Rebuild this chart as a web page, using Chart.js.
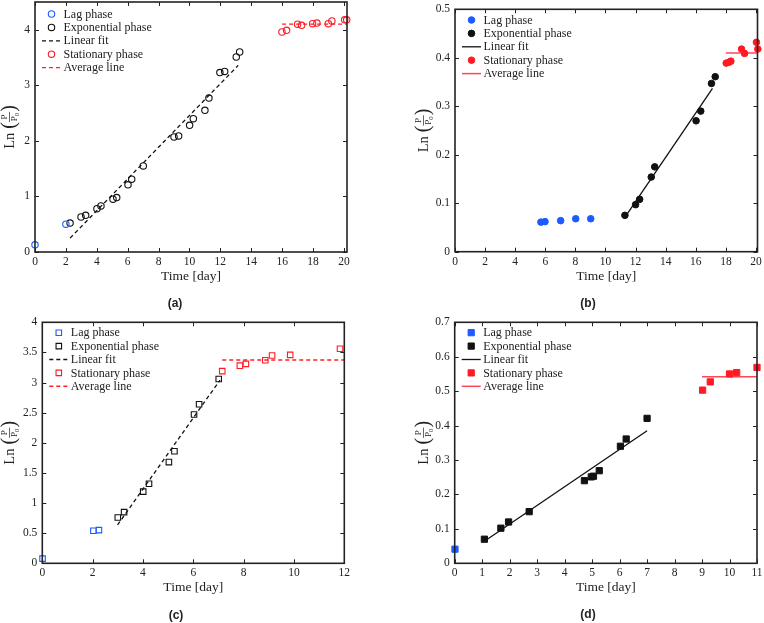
<!DOCTYPE html>
<html>
<head>
<meta charset="utf-8">
<script src="https://cdn.jsdelivr.net/npm/chart.js@4.4.1/dist/chart.umd.min.js"></script>
<style>
  html, body { margin: 0; padding: 0; background: #fff; }
  #wrap { position: relative; width: 764px; height: 623px; overflow: hidden; background: #fff; }
  .panel { position: absolute; }
  .tag { position: absolute; font: bold 12px "Liberation Sans", Arial, sans-serif; color: #222; transform: translate(-50%, -50%); }
</style>
</head>
<body>
<div id="wrap">
  <div class="panel" style="left:0;top:0"><canvas id="ca" width="382" height="300"></canvas></div>
  <div class="panel" style="left:382px;top:0"><canvas id="cb" width="382" height="300"></canvas></div>
  <div class="panel" style="left:0;top:300px"><canvas id="cc" width="382" height="323"></canvas></div>
  <div class="panel" style="left:382px;top:300px"><canvas id="cd" width="382" height="323"></canvas></div>
  <div class="tag" style="left:175px;top:303px">(a)</div>
  <div class="tag" style="left:588px;top:303px">(b)</div>
  <div class="tag" style="left:176px;top:615px">(c)</div>
  <div class="tag" style="left:588px;top:614px">(d)</div>
</div>
<script>
// ---- data: panel (a) ----
const lagXA = [0, 2.0];
const lagYA = [0.13, 0.50];
const expXA = [2.27, 2.98, 3.28, 4.01, 4.27, 5.05, 5.29, 6.02, 6.26, 7.01, 9.0, 9.3, 10.01, 10.25, 11.0, 11.26, 11.97, 12.28, 13.03, 13.25];
const expYA = [0.52, 0.63, 0.66, 0.78, 0.83, 0.95, 0.98, 1.21, 1.31, 1.55, 2.07, 2.09, 2.28, 2.40, 2.55, 2.77, 3.23, 3.25, 3.51, 3.60];
const fitXA = [2.27, 13.16];
const fitYA = [0.25, 3.36];
const statXA = [15.99, 16.29, 17.0, 17.26, 17.97, 18.25, 18.99, 19.22, 20.05, 20.18];
const statYA = [3.96, 3.99, 4.10, 4.08, 4.11, 4.12, 4.11, 4.16, 4.18, 4.18];
const avgXA = [16.0, 20.2];
const avgYA = [4.10, 4.10];
const xTicksA = [0, 2, 4, 6, 8, 10, 12, 14, 16, 18, 20];
const yTicksA = [0, 1, 2, 3, 4];

// ---- data: panel (b) ----
const lagXB = [5.71, 5.98, 7.02, 8.02, 9.02];
const lagYB = [0.061, 0.062, 0.064, 0.068, 0.068];
const expXB = [11.29, 12.0, 12.27, 13.04, 13.27, 16.02, 16.33, 17.04, 17.29];
const expYB = [0.075, 0.097, 0.108, 0.154, 0.175, 0.270, 0.290, 0.347, 0.361];
const fitXB = [11.4, 17.11];
const fitYB = [0.076, 0.337];
const statXB = [18.02, 18.22, 18.33, 19.04, 19.24, 20.03, 20.12];
const statYB = [0.389, 0.391, 0.393, 0.418, 0.409, 0.432, 0.418];
const avgXB = [18.0, 20.1];
const avgYB = [0.41, 0.41];
const xTicksB = [0, 2, 4, 6, 8, 10, 12, 14, 16, 18, 20];
const yTicksB = [0, 0.1, 0.2, 0.3, 0.4, 0.5];

// ---- data: panel (c) ----
const lagXC = [0.01, 2.03, 2.25];
const lagYC = [0.077, 0.54, 0.55];
const expXC = [3.0, 3.25, 4.01, 4.24, 5.03, 5.25, 6.03, 6.23, 7.01];
const expYC = [0.76, 0.85, 1.19, 1.32, 1.68, 1.86, 2.47, 2.64, 3.06];
const fitXC = [2.99, 7.06];
const fitYC = [0.636, 3.04];
const statXC = [7.15, 7.85, 8.09, 8.86, 9.13, 9.85, 11.83];
const statYC = [3.19, 3.28, 3.31, 3.37, 3.45, 3.46, 3.56];
const avgXC = [7.15, 12];
const avgYC = [3.375, 3.375];
const xTicksC = [0, 2, 4, 6, 8, 10, 12];
const yTicksC = [0, 0.5, 1, 1.5, 2, 2.5, 3, 3.5, 4];

// ---- data: panel (d) ----
const lagXD = [0.01];
const lagYD = [0.041];
const expXD = [1.08, 1.68, 1.96, 2.71, 4.72, 4.97, 5.05, 5.26, 6.03, 6.24, 7.0];
const expYD = [0.070, 0.102, 0.120, 0.150, 0.240, 0.251, 0.253, 0.269, 0.340, 0.361, 0.421];
const fitXD = [1.12, 7.0];
const fitYD = [0.066, 0.385];
const statXD = [9.02, 9.30, 10.0, 10.26, 11.0];
const statYD = [0.503, 0.527, 0.550, 0.554, 0.569];
const avgXD = [9.0, 11.0];
const avgYD = [0.542, 0.542];
const xTicksD = [0, 1, 2, 3, 4, 5, 6, 7, 8, 9, 10, 11];
const yTicksD = [0, 0.1, 0.2, 0.3, 0.4, 0.5, 0.6, 0.7];

const seriesLabels = ['Lag phase', 'Exponential phase', 'Linear fit', 'Stationary phase', 'Average line'];

const SERIF = '"Liberation Serif", "Times New Roman", serif';
const INK = '#222';
const BLUE = '#1a5cff';
const RED = '#ff1a24';
const BLACK = '#111';

function pts(xs, ys) {
  return xs.map((x, i) => ({ x: x, y: ys[i] }));
}

function drawMarker(ctx, style, r, filled, color, w, cx, cy) {
  ctx.beginPath();
  if (style === 'rect') {
    const s = r * Math.SQRT1_2;
    ctx.rect(cx - s, cy - s, 2 * s, 2 * s);
  } else {
    ctx.arc(cx, cy, r, 0, Math.PI * 2);
  }
  ctx.lineWidth = w;
  ctx.strokeStyle = color;
  if (filled) { ctx.fillStyle = color; ctx.fill(); }
  ctx.stroke();
}

// frame, inward ticks, legend and the Ln(P/P0) label
const deco = {
  id: 'deco',
  afterDatasetsDraw(chart, args, o) {
    const ctx = chart.ctx;
    const a = chart.chartArea;
    const xs = chart.scales.x, ys = chart.scales.y;
    ctx.save();
    ctx.strokeStyle = INK;
    ctx.lineWidth = 1;
    ctx.setLineDash([]);
    ctx.beginPath();
    xs.ticks.forEach(t => {
      const px = Math.round(xs.getPixelForValue(t.value)) + 0.5;
      ctx.moveTo(px, a.bottom); ctx.lineTo(px, a.bottom - 4);
      ctx.moveTo(px, a.top); ctx.lineTo(px, a.top + 4);
    });
    ys.ticks.forEach(t => {
      const py = Math.round(ys.getPixelForValue(t.value)) + 0.5;
      ctx.moveTo(a.left, py); ctx.lineTo(a.left + 4, py);
      ctx.moveTo(a.right, py); ctx.lineTo(a.right - 4, py);
    });
    ctx.stroke();
    ctx.lineWidth = 1.6;
    ctx.strokeRect(a.left, a.top, a.right - a.left, a.bottom - a.top);

    // legend
    ctx.font = '12px ' + SERIF;
    ctx.textBaseline = 'middle';
    ctx.textAlign = 'left';
    chart.data.datasets.forEach((ds, i) => {
      const y = a.top + o.legendTop + i * o.legendStep;
      if (ds.showLine) {
        ctx.beginPath();
        ctx.setLineDash(ds.borderDash || []);
        ctx.strokeStyle = ds.borderColor;
        ctx.lineWidth = ds.borderWidth;
        ctx.moveTo(a.left + 7, y); ctx.lineTo(a.left + 26, y);
        ctx.stroke();
        ctx.setLineDash([]);
      } else {
        drawMarker(ctx, ds.pointStyle, ds.pointRadius, o.filled, ds.pointBorderColor, ds.pointBorderWidth, a.left + 16.5, y);
      }
      ctx.fillStyle = INK;
      ctx.fillText(ds.label, a.left + 28.5, y + 0.5);
    });

    // y title: Ln (P / P0)
    const cx = o.yTitleX, cy = (a.top + a.bottom) / 2;
    ctx.translate(cx, cy);
    ctx.rotate(-Math.PI / 2);
    ctx.fillStyle = INK;
    const big = '14.5px ' + SERIF, par = '20px ' + SERIF, sm = '9px ' + SERIF, sub = '6.5px ' + SERIF;
    ctx.font = big; const wLn = ctx.measureText('Ln').width;
    ctx.font = par; const wP = ctx.measureText('(').width;
    ctx.font = sm; const wNum = ctx.measureText('P').width;
    ctx.font = sub; const wSub = ctx.measureText('0').width;
    const wFrac = wNum + wSub + 2;
    const gap = 4;
    const total = wLn + gap + wP + wFrac + wP;
    let u = -total / 2;
    ctx.textBaseline = 'alphabetic';
    ctx.font = big; ctx.fillText('Ln', u, 5); u += wLn + gap;
    ctx.font = par; ctx.fillText('(', u, 6); u += wP;
    ctx.font = sm;
    ctx.fillText('P', u + (wFrac - wNum) / 2, -1.8);
    ctx.fillText('P', u + 0.8, 8.2);
    ctx.font = sub; ctx.fillText('0', u + 0.8 + wNum, 9.8);
    ctx.lineWidth = 0.7; ctx.strokeStyle = INK;
    ctx.beginPath(); ctx.moveTo(u, 0.5); ctx.lineTo(u + wFrac, 0.5); ctx.stroke();
    u += wFrac;
    ctx.font = par; ctx.fillText(')', u, 6);
    ctx.restore();
  }
};

function makePanel(id, p) {
  const m = p.marker;
  const pointDs = (label, xs, ys, color) => ({
    label: label,
    data: pts(xs, ys),
    showLine: false,
    pointStyle: m.style,
    pointRadius: m.r,
    pointHoverRadius: m.r,
    pointBorderWidth: m.w,
    pointBorderColor: color,
    pointBackgroundColor: m.filled ? color : 'rgba(0,0,0,0)',
    borderColor: color,
    backgroundColor: m.filled ? color : 'rgba(0,0,0,0)',
    clip: false
  });
  const lineDs = (label, xs, ys, color, width) => ({
    label: label,
    data: pts(xs, ys),
    showLine: true,
    pointRadius: 0,
    pointHoverRadius: 0,
    borderColor: color,
    backgroundColor: color,
    borderWidth: width,
    borderDash: p.dash,
    fill: false
  });
  const tickFont = { family: SERIF, size: 11.5 };
  return new Chart(document.getElementById(id), {
    type: 'scatter',
    data: {
      datasets: [
        pointDs(seriesLabels[0], p.lagX, p.lagY, BLUE),
        pointDs(seriesLabels[1], p.expX, p.expY, BLACK),
        lineDs(seriesLabels[2], p.fitX, p.fitY, BLACK, p.fitW),
        pointDs(seriesLabels[3], p.statX, p.statY, RED),
        lineDs(seriesLabels[4], p.avgX, p.avgY, p.avgColor, p.avgW)
      ]
    },
    options: {
      responsive: false,
      animation: false,
      events: [],
      layout: {
        autoPadding: false,
        padding: { left: 0, top: p.top, right: p.rightPad, bottom: p.bottomPad }
      },
      plugins: {
        legend: { display: false },
        tooltip: { enabled: false },
        deco: { legendTop: p.legendTop, legendStep: 13.4, filled: m.filled, yTitleX: p.yTitleX }
      },
      scales: {
        x: {
          type: 'linear', position: 'bottom', min: 0, max: p.xMax,
          afterBuildTicks: s => { s.ticks = p.xTicks.map(v => ({ value: v })); },
          afterFit: s => { s.height = p.xH; s.paddingLeft = 0; s.paddingRight = 0; },
          grid: { display: false, drawTicks: false },
          border: { display: false },
          ticks: { padding: 3, color: INK, font: tickFont, maxRotation: 0, autoSkip: false, callback: v => String(v) },
          title: { display: true, text: 'Time [day]', color: INK, font: { family: SERIF, size: 13.5 }, padding: 0 }
        },
        y: {
          type: 'linear', position: 'left', min: 0, max: p.yMax,
          afterBuildTicks: s => { s.ticks = p.yTicks.map(v => ({ value: v })); },
          afterFit: s => { s.width = p.left; s.paddingTop = 0; s.paddingBottom = 0; },
          grid: { display: false, drawTicks: false },
          border: { display: false },
          ticks: { padding: 5, color: INK, font: tickFont, autoSkip: false, callback: v => String(v) }
        }
      }
    },
    plugins: [deco]
  });
}

makePanel('ca', {
  lagX: lagXA, lagY: lagYA, expX: expXA, expY: expYA, fitX: fitXA, fitY: fitYA,
  statX: statXA, statY: statYA, avgX: avgXA, avgY: avgYA, xTicks: xTicksA, yTicks: yTicksA,
  xMax: 20.2, yMax: 4.5,
  marker: { style: 'circle', r: 3.2, w: 1.1, filled: false },
  dash: [4, 3], fitW: 1.3, avgW: 1.3, avgColor: '#ff2020',
  left: 35, rightPad: 35, top: 2, xH: 32.4, bottomPad: 15.6, legendTop: 12, yTitleX: 9
});

makePanel('cb', {
  lagX: lagXB, lagY: lagYB, expX: expXB, expY: expYB, fitX: fitXB, fitY: fitYB,
  statX: statXB, statY: statYB, avgX: avgXB, avgY: avgYB, xTicks: xTicksB, yTicks: yTicksB,
  xMax: 20.1, yMax: 0.5,
  marker: { style: 'circle', r: 3.3, w: 1, filled: true },
  dash: [], fitW: 1.3, avgW: 1.5, avgColor: '#ff4656',
  left: 73, rightPad: 6.5, top: 9.3, xH: 32.7, bottomPad: 15.6, legendTop: 10.7, yTitleX: 41
});

makePanel('cc', {
  lagX: lagXC, lagY: lagYC, expX: expXC, expY: expYC, fitX: fitXC, fitY: fitYC,
  statX: statXC, statY: statYC, avgX: avgXC, avgY: avgYC, xTicks: xTicksC, yTicks: yTicksC,
  xMax: 12, yMax: 4,
  marker: { style: 'rect', r: 3.9, w: 1.1, filled: false },
  dash: [4, 3], fitW: 1.3, avgW: 1.5, avgColor: '#ff2020',
  left: 42.3, rightPad: 37.7, top: 22.3, xH: 32.1, bottomPad: 27.6, legendTop: 10.4, yTitleX: 9
});

makePanel('cd', {
  lagX: lagXD, lagY: lagYD, expX: expXD, expY: expYD, fitX: fitXD, fitY: fitYD,
  statX: statXD, statY: statYD, avgX: avgXD, avgY: avgYD, xTicks: xTicksD, yTicks: yTicksD,
  xMax: 11, yMax: 0.7,
  marker: { style: 'rect', r: 4.4, w: 1, filled: true },
  dash: [], fitW: 1.3, avgW: 1.5, avgColor: '#ff4656',
  left: 72.7, rightPad: 7, top: 22.3, xH: 32.1, bottomPad: 27.6, legendTop: 10.4, yTitleX: 41
});
</script>
</body>
</html>
